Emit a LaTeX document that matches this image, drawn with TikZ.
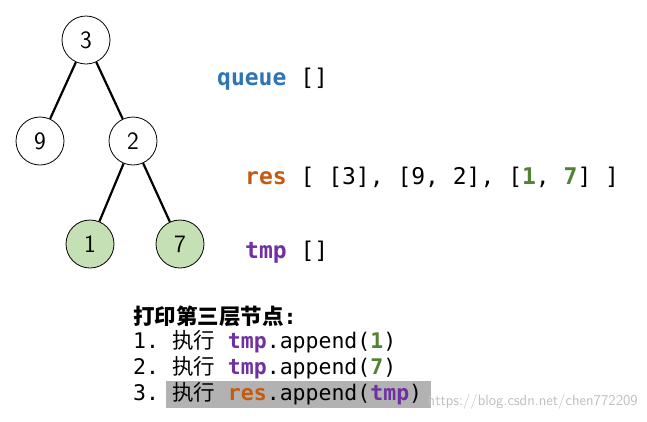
\documentclass[tikz,border=0pt]{standalone}
\usepackage{fontspec}
\setmonofont{DejaVu Sans Mono}
\newfontfamily\cjk{Noto Sans CJK SC}
\definecolor{qblue}{HTML}{2E75B6}
\definecolor{rorange}{HTML}{C55A11}
\definecolor{tpurple}{HTML}{7030A0}
\definecolor{ngreen}{HTML}{548235}
\definecolor{nfill}{HTML}{C5E0B4}
\newcommand{\kw}[2]{\textcolor{#1}{\textbf{#2}}}
\begin{document}
\begin{tikzpicture}[x=1pt,y=-1pt,
  tn/.style={circle,draw=black,line width=0.8pt,minimum size=48pt,inner sep=0pt,font=\fontsize{25}{25}\selectfont\sffamily,fill=white},
  gn/.style={tn,fill=nfill},
  edge/.style={line width=2.2pt},
  code/.style={anchor=west,inner sep=0pt,font=\fontsize{23}{23}\selectfont\ttfamily},
  bcode/.style={anchor=west,inner sep=0pt,font=\fontsize{21.5}{21.5}\selectfont\ttfamily}]
\useasboundingbox (0,0) rectangle (647,421);
\fill[white] (0,0) rectangle (647,421);
\node[tn] (n3) at (86,40) {3};
\node[tn] (n9) at (40,141) {9};
\node[tn] (n2) at (133,141) {2};
\node[gn] (n1) at (90,244) {1};
\node[gn] (n7) at (180,244) {7};
\draw[edge] (n3) -- (n9);
\draw[edge] (n3) -- (n2);
\draw[edge] (n2) -- (n1);
\draw[edge] (n2) -- (n7);
\node[code] (q) at (217,79) {\kw{qblue}{queue} []};
\node[code] (r) at (245,177) {\kw{rorange}{res} [ [3], [9, 2], [\kw{ngreen}{1}, \kw{ngreen}{7}] ]};
\node[code] (t) at (245,252) {\kw{tpurple}{tmp} []};
\fill[black!30] (166,381) rectangle (431,408);
\node[bcode] (l0) at (133,316) {{\cjk\bfseries 打印第三层节点}\textbf{:}};
\node[bcode] (l1) at (133,342) {1. {\cjk 执行} \kw{tpurple}{tmp}.append(\kw{ngreen}{1})};
\node[bcode] (l2) at (133,368) {2. {\cjk 执行} \kw{tpurple}{tmp}.append(\kw{ngreen}{7})};
\node[bcode] (l3) at (133,394) {3. {\cjk 执行} \kw{rorange}{res}.append(\kw{tpurple}{tmp})};
\node[anchor=east,inner sep=0pt,text=black!25,font=\fontsize{15}{15}\selectfont\sffamily] (wm) at (638,402) {https://blog.csdn.net/chen772209};
\end{tikzpicture}
\end{document}
